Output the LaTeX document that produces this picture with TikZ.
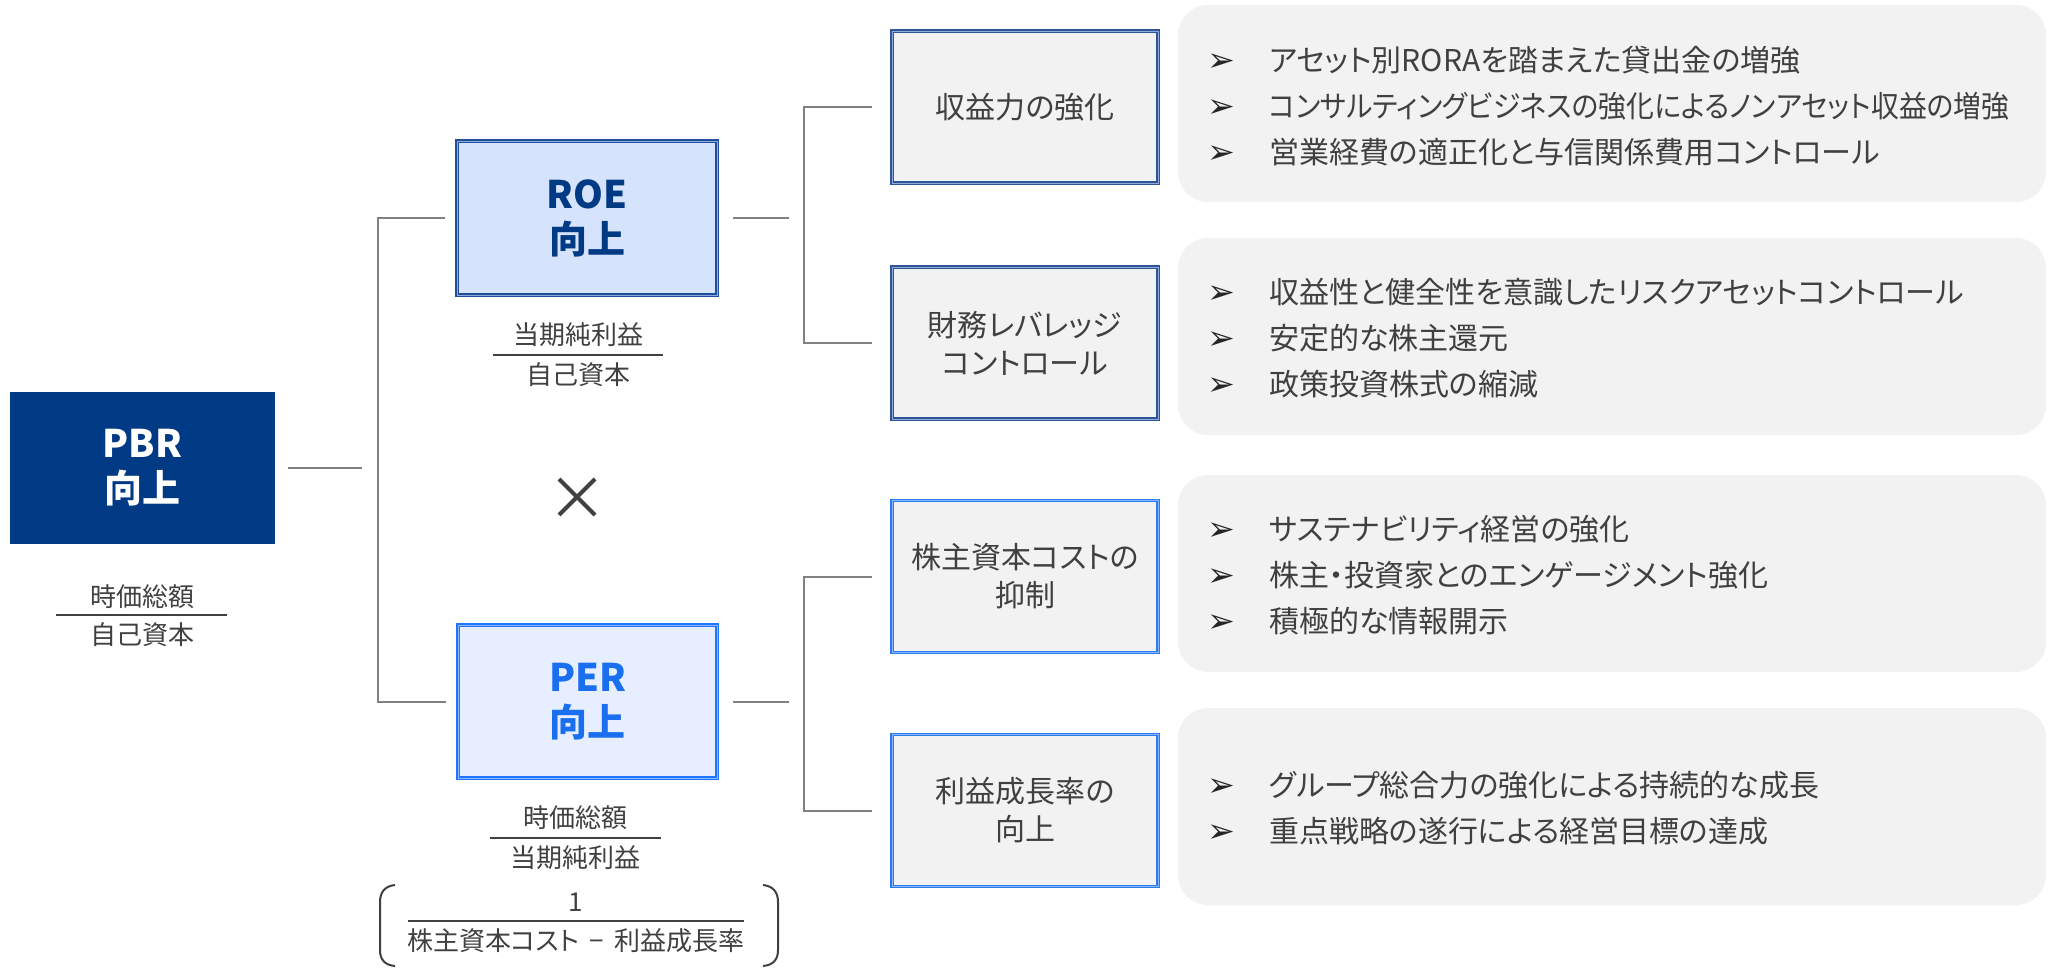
\documentclass[tikz,border=0pt]{standalone}
\usepackage{graphicx}
\usepackage{fontspec}
\setmainfont{Noto Sans CJK JP}[CharacterWidth=AlternateProportional]
\newfontfamily\symfont{DejaVu Sans}
\usetikzlibrary{calc}
\definecolor{navy}{HTML}{003A84}
\definecolor{roefill}{HTML}{D6E3FC}
\definecolor{roeline}{HTML}{1F4E9A}
\definecolor{roeinner}{HTML}{8FAADC}
\definecolor{perfill}{HTML}{E6EEFF}
\definecolor{perline}{HTML}{1F75FE}
\definecolor{perinner}{HTML}{8DB8FF}
\definecolor{pertext}{HTML}{1A6FF0}
\definecolor{boxfill}{HTML}{F2F2F2}
\definecolor{darkline}{HTML}{2F5597}
\definecolor{brightline}{HTML}{2A7BF2}
\definecolor{txt}{HTML}{404040}
\definecolor{connc}{HTML}{808080}
\newcommand{\bl}{\makebox[46.5pt][l]{\color[HTML]{262626}\symfont\fontsize{25}{25}\selectfont ➢}}
\begin{document}
\begin{tikzpicture}[x=0.75pt,y=-0.75pt,
  conn/.style={draw=connc, line width=1.5pt},
  fracl/.style={draw=txt, line width=1.5pt},
  big/.style={font=\bfseries\fontsize{28.5}{33.75}\selectfont, align=center, inner sep=0pt},
  mid/.style={fill=boxfill, minimum width=199.5pt, minimum height=114pt, align=center,
    text=txt, font=\fontsize{22.5}{28.5}\selectfont, line width=0.9pt, double distance=0.75pt, inner sep=0pt},
  midA/.style={mid, draw=darkline, double=roeinner},
  midB/.style={mid, draw=brightline, double=perinner},
  fr/.style={text=txt, font=\fontsize{19.5}{22}\selectfont, inner sep=0pt},
  panel/.style={fill=boxfill, rounded corners=22.5pt, minimum width=651pt, minimum height=147.75pt},
  ptext/.style={anchor=west, align=left, text=txt, font=\fontsize{22.5}{34.5}\selectfont, inner sep=0pt}
]
\useasboundingbox (0,0) rectangle (2054,967);

% PBR
\node[big, fill=navy, text=white, minimum width=198.75pt, minimum height=114pt] (pbr) at (142.5,468) {PBR\\向上};
\node[fr] (pbrnum) at (142,597) {時価総額};
\node[fr] (pbrden) at (142,635) {自己資本};
\draw[fracl] (56,615) -- (227,615);

% ROE
\node[big, fill=roefill, text=navy, draw=roeline, double=roeinner, line width=1pt, double distance=0.75pt,
  minimum width=195pt, minimum height=115.5pt] (roe) at (587,218) {ROE\\向上};
\node[fr] (roenum) at (578,335) {当期純利益};
\node[fr] (roeden) at (578,375) {自己資本};
\draw[fracl] (493,355) -- (663,355);

% times
\draw[draw=txt, line width=3pt] (559,479) -- (595,515);
\draw[draw=txt, line width=3pt] (559,515) -- (595,479);

% PER
\node[big, fill=perfill, text=pertext, draw=perline, double=perinner, line width=1pt, double distance=0.75pt,
  minimum width=194.25pt, minimum height=114.75pt] (per) at (587.5,701.5) {PER\\向上};
\node[fr] (pernum) at (575.5,818) {時価総額};
\node[fr] (perden) at (575.5,858) {当期純利益};
\draw[fracl] (490,838) -- (661,838);
\node[fr] (onenum) at (576,902) {1};
\node[fr] (oneden) at (576,941) {株主資本コスト\hspace{8pt}−\hspace{8pt}利益成長率};
\draw[fracl] (408,921) -- (744,921);
\draw[fracl] (395,885) .. controls (385,886) and (380,892) .. (380,902) -- (380,950) .. controls (380,960) and (385,965) .. (395,966);
\draw[fracl] (763,885) .. controls (773,886) and (778,892) .. (778,902) -- (778,950) .. controls (778,960) and (773,965) .. (763,966);

% middle boxes
\node[midA] (b1) at (1025,107) {収益力の強化};
\node[midA] (b2) at (1025,343) {財務レバレッジ\\コントロール};
\node[midB] (b3) at (1025,576.5) {株主資本コストの\\抑制};
\node[midB] (b4) at (1025,810.5) {利益成長率の\\向上};

% connectors
\draw[conn] ($(pbr.east)+(13,0)$) -- ++(74,0);
\draw[conn] ($(roe.west)+(-11,0)$) -| ($(per.west)+(-79,0)$) -- ($(per.west)+(-11,0)$);
\draw[conn] ($(roe.east)+(15,0)$) -- ++(56,0);
\draw[conn] ($(per.east)+(15,0)$) -- ++(56,0);
\draw[conn] ($(b1.west)+(-19,0)$) -| ($(b2.west)+(-87,0)$) -- ($(b2.west)+(-19,0)$);
\draw[conn] ($(b3.west)+(-19,0)$) -| ($(b4.west)+(-87,0)$) -- ($(b4.west)+(-19,0)$);

% panels
\node[panel] (p1) at (1612,103.5) {};
\node[panel] (p2) at (1612,336.5) {};
\node[panel] (p3) at (1612,573.5) {};
\node[panel] (p4) at (1612,806.5) {};
\node[ptext] (t1) at (1207,106) {\bl アセット別RORAを踏まえた貸出金の増強\\\bl \resizebox{555pt}{\height}{コンサルティングビジネスの強化によるノンアセット収益の増強}\\\bl 営業経費の適正化と与信関係費用コントロール};
\node[ptext] (t2) at (1207,338) {\bl 収益性と健全性を意識したリスクアセットコントロール\\\bl 安定的な株主還元\\\bl 政策投資株式の縮減};
\node[ptext] (t3) at (1207,575.5) {\bl サステナビリティ経営の強化\\\bl 株主・投資家とのエンゲージメント強化\\\bl 積極的な情報開示};
\node[ptext] (t4) at (1207,808.5) {\bl グループ総合力の強化による持続的な成長\\\bl 重点戦略の遂行による経営目標の達成};
\end{tikzpicture}
\end{document}
